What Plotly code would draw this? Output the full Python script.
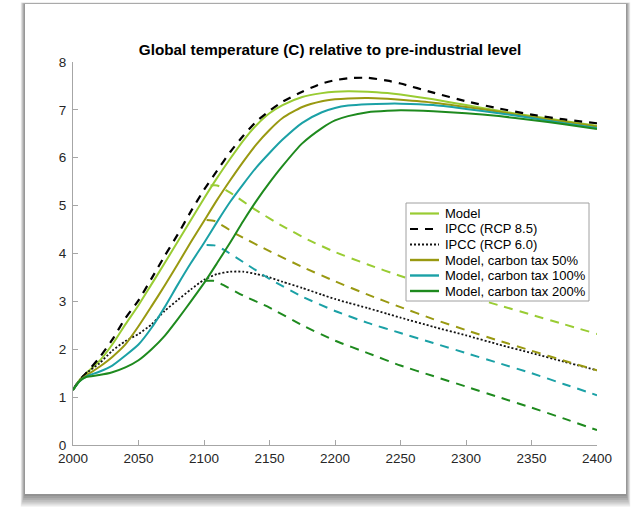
import plotly.graph_objects as go

# ---- data -------------------------------------------------------------
years = [2000, 2005, 2010, 2020, 2030, 2040, 2050, 2060, 2070, 2080, 2090,
         2100, 2110, 2120, 2130, 2140, 2150, 2160, 2175, 2190, 2200, 2210,
         2225, 2240, 2250, 2275, 2300, 2325, 2350, 2375, 2400]

model = [1.15, 1.36, 1.50, 1.75, 2.10, 2.52, 2.92, 3.36, 3.80, 4.25, 4.70,
         5.15, 5.58, 5.98, 6.36, 6.68, 6.93, 7.10, 7.27, 7.35, 7.38, 7.39,
         7.38, 7.35, 7.32, 7.22, 7.10, 6.98, 6.87, 6.77, 6.67]

rcp85 = [1.15, 1.36, 1.50, 1.82, 2.20, 2.65, 3.02, 3.48, 3.95, 4.40, 4.88,
         5.33, 5.73, 6.12, 6.46, 6.76, 6.98, 7.17, 7.38, 7.55, 7.62, 7.66,
         7.67, 7.61, 7.55, 7.36, 7.18, 7.03, 6.90, 6.80, 6.72]

rcp60 = [1.15, 1.35, 1.50, 1.70, 1.97, 2.17, 2.32, 2.52, 2.80, 3.03, 3.25,
         3.45, 3.57, 3.62, 3.62, 3.57, 3.50, 3.41, 3.28, 3.14, 3.05, 2.97,
         2.86, 2.74, 2.66, 2.47, 2.29, 2.10, 1.92, 1.74, 1.56]

tax50 = [1.15, 1.34, 1.45, 1.63, 1.84, 2.10, 2.48, 2.90, 3.33, 3.78, 4.24,
         4.68, 5.12, 5.53, 5.92, 6.28, 6.58, 6.83, 7.06, 7.18, 7.22, 7.24,
         7.25, 7.23, 7.21, 7.15, 7.06, 6.96, 6.85, 6.75, 6.65]

tax100 = [1.15, 1.33, 1.43, 1.53, 1.66, 1.87, 2.10, 2.45, 2.88, 3.35, 3.80,
          4.22, 4.66, 5.08, 5.45, 5.80, 6.10, 6.38, 6.73, 6.95, 7.04, 7.09,
          7.12, 7.13, 7.13, 7.10, 7.02, 6.93, 6.83, 6.72, 6.62]

tax200 = [1.15, 1.33, 1.42, 1.46, 1.52, 1.62, 1.77, 2.00, 2.28, 2.63, 3.00,
          3.38, 3.80, 4.23, 4.68, 5.10, 5.48, 5.83, 6.30, 6.62, 6.78, 6.87,
          6.95, 6.98, 6.99, 6.97, 6.93, 6.87, 6.79, 6.70, 6.60]

# scenario branches after 2100 (dashed)
model_br_years = [2105, 2110, 2120, 2140, 2160, 2180, 2200, 2225, 2250, 2275,
                  2300, 2325, 2350, 2375, 2400]
model_br = [5.42, 5.42, 5.27, 4.90, 4.57, 4.28, 4.03, 3.77, 3.53, 3.32,
            3.12, 2.92, 2.72, 2.52, 2.32]

tax50_br_years = [2102, 2108, 2125, 2150, 2175, 2200, 2225, 2250, 2275, 2300,
                  2325, 2350, 2375, 2400]
tax50_br = [4.70, 4.68, 4.40, 4.05, 3.72, 3.42, 3.14, 2.88, 2.63, 2.40,
            2.18, 1.97, 1.76, 1.56]

tax100_br_years = [2102, 2108, 2115, 2130, 2150, 2175, 2200, 2225, 2250, 2275,
                   2300, 2325, 2350, 2375, 2400]
tax100_br = [4.18, 4.17, 4.08, 3.82, 3.47, 3.10, 2.80, 2.55, 2.34, 2.13,
             1.92, 1.71, 1.50, 1.27, 1.04]

tax200_br_years = [2101, 2107, 2112, 2130, 2150, 2175, 2200, 2225, 2250, 2275,
                   2300, 2325, 2350, 2375, 2400]
tax200_br = [3.43, 3.43, 3.38, 3.12, 2.87, 2.50, 2.18, 1.92, 1.66, 1.44,
             1.22, 1.00, 0.78, 0.55, 0.31]

x_ticks = [2000, 2050, 2100, 2150, 2200, 2250, 2300, 2350, 2400]
y_ticks = [0, 1, 2, 3, 4, 5, 6, 7, 8]

title = "Global temperature (C) relative to pre-industrial level"

# ---- styling ----------------------------------------------------------
C_MODEL = "#99CC33"
C_TAX50 = "#999911"
C_TAX100 = "#1BA1A6"
C_TAX200 = "#1E8A1E"
FONT = "Liberation Sans, Arial, Helvetica, sans-serif"

W, H = 638, 509
ML, MR, MT, MB = 73, 41, 62, 64
PW, PH = W - ML - MR, H - MT - MB


def px(x):
    return (x - ML) / PW


def py(y):
    return (H - MB - y) / PH


DASH = "9px,7px"
BLACK_DASH = "8px,7px"
DOT = "2px,2px"

# legend entries: (label, colour, width, dash)
legend_items = [
    ("Model", C_MODEL, 2.2, None),
    ("IPCC (RCP 8.5)", "black", 2.2, BLACK_DASH),
    ("IPCC (RCP 6.0)", "#111111", 1.8, DOT),
    ("Model, carbon tax 50%", C_TAX50, 2.4, None),
    ("Model, carbon tax 100%", C_TAX100, 2.4, None),
    ("Model, carbon tax 200%", C_TAX200, 2.4, None),
]

fig = go.Figure()


def curve(x, y, name, color, width, dash=None, smoothing=0.6):
    line = dict(color=color, width=width, shape="spline", smoothing=smoothing)
    if dash:
        line["dash"] = dash
    fig.add_trace(go.Scatter(x=x, y=y, name=name, mode="lines",
                             showlegend=False, line=line))


curve(years, model, "Model", C_MODEL, 2.0)
curve(model_br_years, model_br, "Model", C_MODEL, 2.0, DASH, 0.5)
curve(years, rcp85, "IPCC (RCP 8.5)", "black", 2.2, BLACK_DASH)
curve(years, rcp60, "IPCC (RCP 6.0)", "#111111", 1.8, DOT)
curve(years, tax50, "Model, carbon tax 50%", C_TAX50, 2.0)
curve(tax50_br_years, tax50_br, "Model, carbon tax 50%", C_TAX50, 2.0, DASH, 0.5)
curve(years, tax100, "Model, carbon tax 100%", C_TAX100, 2.0)
curve(tax100_br_years, tax100_br, "Model, carbon tax 100%", C_TAX100, 2.0, DASH, 0.5)
curve(years, tax200, "Model, carbon tax 200%", C_TAX200, 2.0)
curve(tax200_br_years, tax200_br, "Model, carbon tax 200%", C_TAX200, 2.0, DASH, 0.5)

shapes = []
annotations = []

# ---- card with soft drop shadow ----------------------------------------
cx0, cx1, cy0, cy1 = 25, 626, 4, 494
for i in range(1, 7):
    shapes.append(dict(type="rect", xref="paper", yref="paper",
                       x0=px(cx0 - i * 0.7), x1=px(cx1 + i * 0.7),
                       y0=py(cy1 + i * 2.1), y1=py(cy0 - i * 0.25),
                       fillcolor="rgba(0,0,0,0.085)", line=dict(width=0),
                       layer="below"))
shapes.append(dict(type="rect", xref="paper", yref="paper",
                   x0=px(cx0), x1=px(cx1), y0=py(cy1), y1=py(cy0),
                   fillcolor="white", line=dict(width=0), layer="below"))

# ---- legend box ---------------------------------------------------------
lx0, lx1, ly0, ly1 = 406, 589, 203, 301
shapes.append(dict(type="rect", xref="paper", yref="paper",
                   x0=px(lx0), x1=px(lx1), y0=py(ly1), y1=py(ly0),
                   fillcolor="white", line=dict(color="#A0A0A0", width=1),
                   layer="above"))
row0, row_step = 213.5, 15.5
for k, (label, color, width, dash) in enumerate(legend_items):
    yk = row0 + k * row_step
    ln = dict(color=color, width=width)
    if dash:
        ln["dash"] = dash
    shapes.append(dict(type="line", xref="paper", yref="paper",
                       x0=px(410), x1=px(439), y0=py(yk), y1=py(yk),
                       line=ln, layer="above"))
    annotations.append(dict(text=label, xref="paper", yref="paper",
                            x=px(443), y=py(yk), xanchor="left",
                            yanchor="middle", showarrow=False,
                            font=dict(family=FONT, size=13, color="black")))

axis_common = dict(showgrid=False, zeroline=False, showline=True,
                   linecolor="#A6A6A6", linewidth=1, ticks="inside",
                   ticklen=5, tickcolor="#A6A6A6", tickwidth=1,
                   tickfont=dict(family=FONT, size=13.5, color="#262626"),
                   mirror=False, fixedrange=True)

fig.update_layout(
    width=W, height=H,
    margin=dict(l=ML, r=MR, t=MT, b=MB, pad=0),
    paper_bgcolor="white", plot_bgcolor="rgba(0,0,0,0)",
    shapes=shapes, annotations=annotations,
    title=dict(text="<b>" + title + "</b>", xref="container",
               x=330 / W, xanchor="center",
               y=1 - 50 / H, yanchor="middle",
               font=dict(family=FONT, size=15.3, color="black")),
    xaxis=dict(range=[2000, 2400], tickvals=x_ticks, ticklabelstandoff=1,
               **axis_common),
    yaxis=dict(range=[0, 8], tickvals=y_ticks, ticklabelstandoff=3,
               **axis_common),
    showlegend=False,
)

fig.write_html("out.html")
